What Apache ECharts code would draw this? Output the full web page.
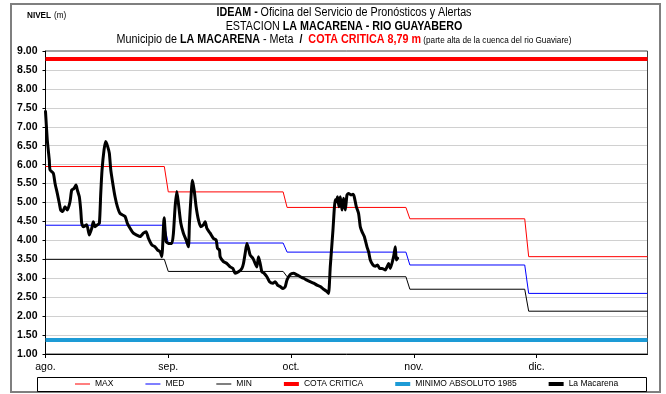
<!DOCTYPE html>
<html>
<head>
<meta charset="utf-8">
<script src="https://cdn.jsdelivr.net/npm/echarts@6/dist/echarts.min.js"></script>
<style>
  html, body { margin: 0; padding: 0; background: #fff; }
  #chart { width: 666px; height: 394px; }
</style>
</head>
<body>
<div id="chart"></div>
<script>
// Day offsets counted from 1 August; ticks every 31 days
const monthTicks = [0, 31, 62, 93, 124];
const monthLabels = ['ago.', 'sep.', 'oct.', 'nov.', 'dic.'];
// First day of each month (Aug..Dec) and last day of the period (31 Dec)
const monthStart = [0, 31, 61, 92, 122];
const periodEnd = 152;

// Monthly reference levels (m)
const maxLevel = [5.95, 5.28, 4.87, 4.57, 3.57];
const medLevel = [4.40, 3.93, 3.69, 3.35, 2.60];
const minLevel = [3.50, 3.18, 3.04, 2.71, 2.13];
const cotaCritica = 8.79;
const minimoAbsoluto = 1.37;

// Observed level at La Macarena station (day offset, level in m)
const macarenaDay = [
  0, 0.45, 0.96, 1.14, 1.97, 2.40, 2.98, 3.49, 3.84, 4.35,
  4.93, 5.51, 6.19, 6.62, 7.20, 7.71, 8.04, 8.54, 8.90, 9.15,
  9.55, 10.41, 11.07, 11.68, 12.08, 12.51, 13.09, 13.60, 13.95, 14.28,
  14.78, 15.21, 15.72, 16.12, 16.48, 16.98, 17.56, 18.15, 18.83, 20.09,
  20.67, 21.35, 22.19, 23.05, 23.88, 24.72, 25.40, 25.98, 26.84, 27.67,
  28.25, 28.94, 29.37, 29.95, 30.45, 31.03, 31.89, 32.30, 32.73, 33.16,
  33.56, 34.17, 34.82, 35.51, 36.09, 36.34, 36.69, 37.10, 37.53, 38.03,
  38.62, 39.22, 39.88, 40.31, 40.74, 41.57, 42.41, 43.09, 43.42, 43.92,
  44.10, 44.93, 45.79, 46.63, 47.31, 47.89, 48.72, 49.58, 49.99, 50.42,
  50.85, 51.25, 51.68, 52.36, 52.94, 53.37, 53.78, 54.21, 54.64, 55.22,
  55.90, 56.56, 57.42, 58.00, 58.58, 59.26, 59.94, 60.53, 60.96, 61.79,
  62.62, 63.48, 64.32, 65.15, 66.01, 66.84, 67.68, 68.54, 69.37, 70.21,
  71.06, 71.47, 71.90, 72.58, 73.16, 73.42, 73.74, 74.10, 74.43, 74.86,
  75.26, 75.69, 76.12, 76.52, 77.13, 77.64, 77.96, 78.47, 79.05, 79.48,
  79.91, 80.49, 81.17, 81.58, 82.01, 82.69, 83.27, 83.85, 84.36, 84.96,
  85.80, 86.23, 86.63, 87.06, 87.89, 88.32, 88.57, 88.90
];
const macarenaLevel = [
  7.40, 6.65, 6.12, 5.86, 5.77, 5.51, 5.24, 4.98, 4.80, 4.76,
  4.89, 4.80, 5.02, 5.33, 5.37, 5.46, 5.33, 5.15, 4.80, 4.45,
  4.36, 4.41, 4.14, 4.32, 4.49, 4.36, 4.41, 4.45, 5.24, 5.86,
  6.39, 6.61, 6.47, 6.30, 5.86, 5.51, 5.15, 4.89, 4.71, 4.63,
  4.45, 4.32, 4.19, 4.14, 4.10, 4.19, 4.23, 4.06, 3.88, 3.83,
  3.75, 3.70, 3.57, 4.60, 3.97, 3.92, 3.92, 4.19, 4.89, 5.29,
  4.98, 4.45, 4.19, 4.01, 3.83, 4.45, 5.07, 5.59, 5.33, 4.89,
  4.54, 4.36, 4.41, 4.49, 4.32, 4.19, 4.05, 4.01, 3.79, 3.75,
  3.57, 3.44, 3.39, 3.30, 3.26, 3.13, 3.17, 3.26, 3.39, 3.66,
  3.92, 3.79, 3.61, 3.53, 3.39, 3.30, 3.57, 3.39, 3.17, 3.13,
  3.04, 2.91, 2.87, 2.91, 2.82, 2.78, 2.73, 2.78, 2.95, 3.10,
  3.13, 3.09, 3.04, 3.00, 2.95, 2.91, 2.87, 2.82, 2.78, 2.71,
  2.65, 2.60, 3.30, 4.27, 5.07, 5.02, 5.15, 4.89, 5.15, 4.80,
  5.11, 4.80, 5.20, 5.24, 5.20, 5.22, 5.15, 4.89, 4.71, 4.36,
  4.23, 4.10, 3.83, 3.70, 3.48, 3.35, 3.32, 3.35, 3.26, 3.26,
  3.22, 3.30, 3.39, 3.26, 3.57, 3.83, 3.48, 3.53
];

const FONT = "'Liberation Sans', Arial, sans-serif";
// Header text is drawn condensed (horizontal scale) in the style of Arial Narrow
const CONDENSE = 0.86;

// Monthly value held from the first to the last day of each month
function monthlySteps(values) {
  const pts = [];
  values.forEach((v, i) => {
    const s = monthStart[i];
    const e = i + 1 < monthStart.length ? monthStart[i + 1] - 1 : periodEnd;
    pts.push([s, v], [e, v]);
  });
  return pts;
}

function flatLine(v) {
  return [[0, v], [periodEnd, v]];
}

// Legend swatch: a horizontal bar of the given thickness inside a 15x12 box
function barIcon(thickness) {
  const y0 = 6 - thickness / 2;
  return 'path://M0,0h0.01v0.01h-0.01z' +
    'M0,' + y0 + 'h15v' + thickness + 'h-15z' +
    'M14.99,11.99h0.01v0.01h-0.01z';
}

const macarenaData = macarenaDay.map((d, i) => [d, macarenaLevel[i]]);

const chart = echarts.init(document.getElementById('chart'), null, { renderer: 'canvas' });

const thin = (color) => ({ type: 'line', symbol: 'none', silent: true,
  lineStyle: { color: color, width: 1 }, itemStyle: { color: color } });

const rich12 = {
  b: { fontFamily: FONT, fontSize: 12.5, fontWeight: 'bold', fill: '#000' },
  n: { fontFamily: FONT, fontSize: 12.5, fill: '#000' },
  r: { fontFamily: FONT, fontSize: 12.5, fontWeight: 'bold', fill: '#ff0000' },
  s: { fontFamily: FONT, fontSize: 9.5, fill: '#000' }
};

chart.setOption({
  animation: false,
  backgroundColor: '#fff',
  grid: {
    left: 45.5, right: 18.5, top: 51, bottom: 40,
    show: true, borderColor: '#404040', borderWidth: 1,
    outerBoundsMode: 'none'
  },
  xAxis: {
    type: 'value', min: 0, max: periodEnd,
    axisLine: { show: true, onZero: false, lineStyle: { color: '#000', width: 1 } },
    axisTick: { show: true, length: 4, customValues: monthTicks, lineStyle: { color: '#000' } },
    axisLabel: {
      customValues: monthTicks,
      formatter: (v) => monthLabels[monthTicks.indexOf(v)] || '',
      color: '#000', fontFamily: FONT, fontSize: 10.5, margin: 8
    },
    splitLine: { show: false }
  },
  yAxis: {
    type: 'value', min: 1, max: 9, interval: 0.5,
    axisLine: { show: true, lineStyle: { color: '#000', width: 1 } },
    axisTick: { show: true, length: 3, lineStyle: { color: '#000' } },
    axisLabel: {
      formatter: (v) => v.toFixed(2),
      color: '#000', fontFamily: FONT, fontSize: 10.5, fontWeight: 'bold', margin: 8
    },
    splitLine: { show: true, lineStyle: { color: '#a0a0a0', width: 1, type: [1, 1] } }
  },
  legend: {
    left: 75, top: 378, padding: 0,
    itemWidth: 15, itemHeight: 12, itemGap: 32,
    textStyle: { fontFamily: FONT, fontSize: 8.5, color: '#000' },
    selectedMode: false,
    data: [
      { name: 'MAX', icon: barIcon(1) },
      { name: 'MED', icon: barIcon(1) },
      { name: 'MIN', icon: barIcon(1) },
      { name: 'COTA CRITICA', icon: barIcon(4) },
      { name: 'MINIMO ABSOLUTO 1985', icon: barIcon(4) },
      { name: 'La Macarena', icon: barIcon(4) }
    ]
  },
  graphic: [
    { type: 'rect', silent: true, z: -10,
      shape: { x: 11, y: 4, width: 649, height: 388 },
      style: { fill: 'none', stroke: '#7f7f7f', lineWidth: 2 } },
    { type: 'rect', silent: true,
      shape: { x: 37.5, y: 377.5, width: 609, height: 14 },
      style: { fill: 'none', stroke: '#000', lineWidth: 1 } },
    { type: 'text', silent: true, x: 27, y: 15, scaleX: CONDENSE,
      style: {
        text: '{b|NIVEL} {n|(m)}', verticalAlign: 'middle', align: 'left',
        rich: {
          b: { fontFamily: FONT, fontSize: 9.5, fontWeight: 'bold', fill: '#000' },
          n: { fontFamily: FONT, fontSize: 9.5, fill: '#000' }
        }
      } },
    { type: 'text', silent: true, x: 344, y: 13, scaleX: CONDENSE,
      style: {
        text: '{b|IDEAM -} {n|Oficina del Servicio de Pronósticos y Alertas}',
        align: 'center', verticalAlign: 'middle', rich: rich12
      } },
    { type: 'text', silent: true, x: 344, y: 26.5, scaleX: CONDENSE,
      style: {
        text: '{n|ESTACION }{b|LA MACARENA - RIO GUAYABERO}',
        align: 'center', verticalAlign: 'middle', rich: rich12
      } },
    { type: 'text', silent: true, x: 344, y: 40, scaleX: CONDENSE,
      style: {
        text: '{n|Municipio de }{b|LA MACARENA}{n| - Meta  }{b|/  }{r|COTA CRITICA 8,79 m}{s| (parte alta de la cuenca del rio Guaviare)}',
        align: 'center', verticalAlign: 'middle', rich: rich12
      } }
  ],
  series: [
    Object.assign(thin('#ff0000'), { name: 'MAX', data: monthlySteps(maxLevel), z: 3 }),
    Object.assign(thin('#0000ff'), { name: 'MED', data: monthlySteps(medLevel), z: 3 }),
    Object.assign(thin('#000000'), { name: 'MIN', data: monthlySteps(minLevel), z: 3 }),
    { name: 'COTA CRITICA', type: 'line', symbol: 'none', silent: true, z: 4,
      data: flatLine(cotaCritica),
      lineStyle: { color: '#ff0000', width: 4 }, itemStyle: { color: '#ff0000' } },
    { name: 'MINIMO ABSOLUTO 1985', type: 'line', symbol: 'none', silent: true, z: 4,
      data: flatLine(minimoAbsoluto),
      lineStyle: { color: '#1d9bd6', width: 4 }, itemStyle: { color: '#1d9bd6' } },
    { name: 'La Macarena', type: 'line', symbol: 'none', silent: true, z: 5,
      smooth: 0.2,
      data: macarenaData,
      lineStyle: { color: '#000', width: 3, join: 'round', cap: 'round' }, itemStyle: { color: '#000' } }
  ]
});
</script>
</body>
</html>
